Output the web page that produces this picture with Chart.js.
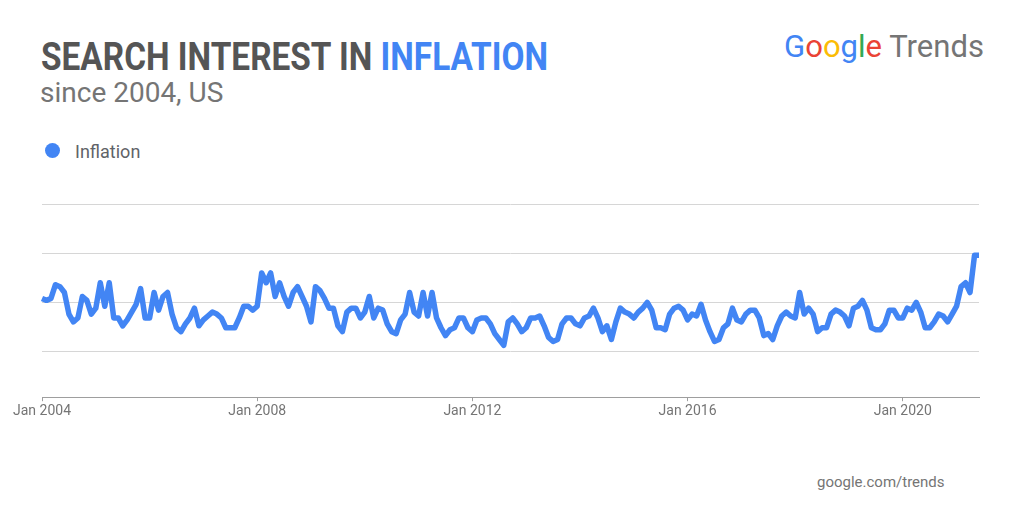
<!DOCTYPE html>
<html>
<head>
<meta charset="utf-8">
<title>Search interest in inflation</title>
<script src="https://cdn.jsdelivr.net/npm/chart.js@4.4.0/dist/chart.umd.min.js"></script>
<style>
  body { margin: 0; background: #fff; font-family: Roboto, sans-serif; }
  .page { position: relative; width: 1024px; height: 517px; overflow: hidden; }
  .abs { position: absolute; line-height: 1; white-space: nowrap; }
  #title { left: 41px; top: 38px; font-size: 38px; font-weight: 700; color: #555; transform-origin: 0 0; }
  #title .hl { color: #4285f4; }
  #sub { left: 40px; top: 79px; font-size: 28px; color: #757575; }
  #logo { left: 784px; top: 31px; font-size: 31px; color: #757575; transform-origin: 0 0; }
  #logo .b { color: #4285f4; } #logo .r { color: #ea4335; } #logo .y { color: #fbbc05; } #logo .g { color: #34a853; }
  #legend { left: 45px; top: 143px; font-size: 18px; color: #5f6368; }
  #legend .dot { position: absolute; left: 0; top: 0; width: 15px; height: 15px; border-radius: 50%; background: #4285f4; }
  #legend .txt { position: absolute; left: 30px; top: 0; }
  #foot { left: 817px; top: 475px; font-size: 15px; color: #757575; }
  #chartBox { position: absolute; left: 0; top: 190px; width: 1024px; height: 240px; }
</style>
</head>
<body>
<div class="page">
  <div class="abs" id="title">SEARCH INTEREST IN <span class="hl">INFLATION</span></div>
  <div class="abs" id="sub">since 2004, US</div>
  <div class="abs" id="logo"><span class="b">G</span><span class="r">o</span><span class="y">o</span><span class="b">g</span><span class="g">l</span><span class="r">e</span> Trends</div>
  <div class="abs" id="legend"><span class="dot"></span><span class="txt">Inflation</span></div>
  <div class="abs" id="foot">google.com/trends</div>
  <div id="chartBox"><canvas id="trend"></canvas></div>
</div>
<script>
// monthly interest, Jan 2004 .. Jun 2021
const values2004_2007 = [52, 51, 52, 59, 58, 55, 44, 40, 42, 53, 51, 44,
                         47, 60, 48, 60, 42, 42, 38, 41, 45, 49, 57, 42,
                         42, 55, 46, 53, 55, 44, 37, 35, 39, 42, 47, 38,
                         41, 43, 45, 44, 42, 37, 37, 37, 42, 48, 48, 46];
const values2008_2011 = [48, 65, 60, 65, 53, 60, 53, 48, 55, 58, 53, 48,
                         40, 58, 56, 52, 47, 47, 38, 35, 45, 47, 47, 42,
                         45, 53, 42, 47, 46, 39, 35, 34, 41, 44, 55, 45,
                         43, 55, 43, 55, 42, 37, 33, 36, 37, 42, 42, 37];
const values2012_2015 = [35, 41, 42, 42, 39, 34, 31, 28, 40, 42, 39, 35,
                         37, 42, 42, 43, 38, 32, 30, 31, 39, 42, 42, 39,
                         38, 42, 43, 47, 42, 35, 38, 31, 40, 47, 45, 44,
                         42, 45, 47, 50, 46, 37, 37, 36, 44, 47, 48, 46];
const values2016_2019 = [41, 44, 43, 49, 41, 35, 30, 31, 37, 39, 47, 41,
                         40, 44, 46, 46, 42, 33, 34, 31, 38, 43, 45, 43,
                         42, 55, 44, 47, 44, 35, 37, 37, 44, 46, 45, 43,
                         38, 47, 48, 51, 46, 37, 36, 36, 39, 46, 46, 42];
const values2020_2021 = [42, 47, 46, 50, 45, 37, 37, 40, 44, 43, 40, 44,
                         48, 58, 60, 55, 74, 74];
const interest = [].concat(values2004_2007, values2008_2011, values2012_2015, values2016_2019, values2020_2021);

const monthNames = ['Jan', 'Feb', 'Mar', 'Apr', 'May', 'Jun', 'Jul', 'Aug', 'Sep', 'Oct', 'Nov', 'Dec'];
const tickLabels = ['Jan 2004', 'Jan 2008', 'Jan 2012', 'Jan 2016', 'Jan 2020'];
const gridValues = [25, 50, 75, 100];

let labels = [];
for (let i = 0; i < interest.length; i++) {
    labels.push(monthNames[i % 12] + ' ' + (2004 + Math.floor(i / 12)));
}

document.fonts.ready.then(() => {
    // squeeze the title like the condensed face in the original
    const title = document.getElementById('title');
    title.style.transform = 'scaleX(' + (507 / title.getBoundingClientRect().width) + ')';
    const logo = document.getElementById('logo');
    logo.style.transform = 'scaleX(' + (200 / logo.getBoundingClientRect().width) + ')';

    new Chart(document.getElementById('trend'), {
        type: 'line',
        data: {
            labels: labels,
            datasets: [{
                label: 'Inflation',
                data: interest,
                borderColor: '#4285f4',
                borderWidth: 5.5,
                borderJoinStyle: 'round',
                pointRadius: 0,
                tension: 0,
                fill: false
            }]
        },
        options: {
            responsive: true,
            maintainAspectRatio: false,
            animation: false,
            layout: { padding: { left: 42, right: 45, top: 14.5, bottom: 8 } },
            plugins: { legend: { display: false }, tooltip: { enabled: false } },
            scales: {
                x: {
                    offset: false,
                    border: { color: '#9e9e9e', width: 1 },
                    grid: {
                        drawOnChartArea: false,
                        tickLength: 4,
                        color: c => tickLabels.includes(labels[c.index]) ? '#9e9e9e' : 'rgba(0,0,0,0)'
                    },
                    ticks: {
                        autoSkip: false,
                        maxRotation: 0,
                        minRotation: 0,
                        padding: 2,
                        color: '#757575',
                        font: { family: 'Roboto', size: 14 },
                        callback: (v, i) => tickLabels.includes(labels[i]) ? labels[i] : ''
                    }
                },
                y: {
                    min: 1.5,
                    max: 100,
                    border: { display: false },
                    grid: { color: '#d6d6d6', drawTicks: false },
                    ticks: { display: false },
                    afterBuildTicks: s => { s.ticks = gridValues.map(v => ({ value: v })); }
                }
            }
        }
    });
});
</script>
</body>
</html>
